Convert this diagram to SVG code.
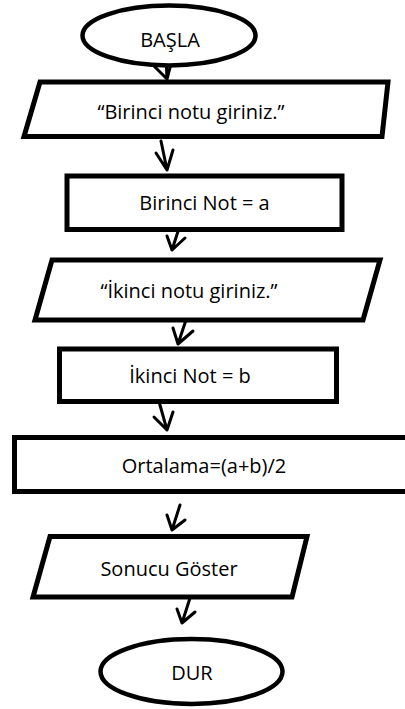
<svg xmlns="http://www.w3.org/2000/svg" width="405" height="709" viewBox="0 0 405 709">
  <style>
    .shape { fill: #ffffff; stroke: #000000; stroke-width: 5; stroke-linejoin: miter; }
    .oval { fill: #ffffff; stroke: #000000; stroke-width: 4.5; }
    .label { font-family: "Open Sans", "Noto Sans", sans-serif; font-size: 20px; fill: #000000; text-anchor: middle; }
    .arrow { fill: none; stroke: #000000; stroke-width: 3; stroke-linecap: round; stroke-linejoin: round; }
  </style>
  <rect width="405" height="709" fill="#ffffff"/>

  <!-- flow connectors: hand-drawn open arrowheads -->
  <g id="connectors">
    <path class="arrow" d="M166,57 L167,79 M153,65 L167,79 M172,60 L167,79"/>
    <path class="arrow" d="M161,141 L167,170 M156,153 L167,170 M173,150 L167,170"/>
    <path class="arrow" d="M181,222 L172,250 M167,236 L172,250 M185,238 L172,250"/>
    <path class="arrow" d="M187,317 L178,344 M173,328 L178,344 M193,331 L178,344"/>
    <path class="arrow" d="M158,398 L167,430 M154,417 L167,430 M173,412 L167,430"/>
    <path class="arrow" d="M180,505 L172,530 M167,515 L172,530 M185,520 L172,530"/>
    <path class="arrow" d="M190,598 L182,623 M177,609 L182,623 M195,612 L182,623"/>
  </g>

  <g id="start">
    <ellipse class="oval" cx="169" cy="35.5" rx="86.5" ry="30"/>
    <text class="label" x="170" y="47">BAŞLA</text>
  </g>

  <g id="input-first">
    <polygon class="shape" points="40,82 388,82 382,136.5 24,136.5"/>
    <text class="label" x="191" y="119">“Birinci notu giriniz.”</text>
  </g>

  <g id="assign-a">
    <rect class="shape" x="67" y="176" width="275" height="53.5"/>
    <text class="label" x="204.5" y="210">Birinci Not = a</text>
  </g>

  <g id="input-second">
    <polygon class="shape" points="52,260 380,260 363,320 35,320"/>
    <text class="label" x="189" y="298">“İkinci notu giriniz.”</text>
  </g>

  <g id="assign-b">
    <rect class="shape" x="59.5" y="349" width="277" height="52.5"/>
    <text class="label" x="190" y="383">İkinci Not = b</text>
  </g>

  <g id="average">
    <rect class="shape" x="14.5" y="437.5" width="400" height="54"/>
    <text class="label" x="204" y="473">Ortalama=(a+b)/2</text>
  </g>

  <g id="output">
    <polygon class="shape" points="50,536.5 307,536.5 292,597 33,597"/>
    <text class="label" x="169" y="576">Sonucu Göster</text>
  </g>

  <g id="stop">
    <ellipse class="oval" cx="191.5" cy="671.5" rx="91" ry="32.5"/>
    <text class="label" x="192" y="680">DUR</text>
  </g>
</svg>
